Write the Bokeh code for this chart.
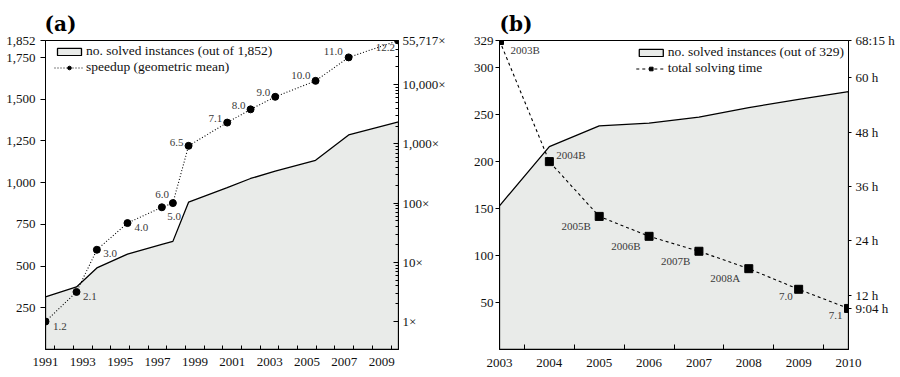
from bokeh.plotting import figure
from bokeh.layouts import row
from bokeh.models import (Range1d, LogAxis, LinearAxis, LogScale, FixedTicker,
                          NumeralTickFormatter, Legend, LegendItem, Title, ColumnDataSource)
from bokeh.embed import file_html
from bokeh.resources import INLINE
from bokeh.core.properties import value

FONT = "Liberation Serif"
FILL = "#e9ebe9"

# ---------------- data: panel (a) ----------------
a_versions = ["1.2", "2.1", "3.0", "4.0", "5.0", "6.0", "6.5", "7.1", "8.0", "9.0", "10.0", "11.0", "12.2"]
a_years = [1991.0, 1992.66, 1993.75, 1995.39, 1997.23, 1997.82, 1998.66, 2000.73, 2001.98, 2003.30, 2005.46, 2007.23, 2009.9]
a_solved = [315, 375, 489, 572, 630, 648, 883, 970, 1025, 1069, 1134, 1286, 1365]
a_speedup = [1.0, 3.16, 16.3, 46, 85, 100, 927, 2290, 3830, 6240, 11600, 28900, 55717]
a_left_ticks = [250, 500, 750, 1000, 1250, 1500, 1750, 1852]
a_right_ticks = [1, 10, 100, 1000, 10000, 55717]
a_year_ticks = [1991, 1993, 1995, 1997, 1999, 2001, 2003, 2005, 2007, 2009]
a_total = 1852

# ---------------- data: panel (b) ----------------
b_versions = ["2003B", "2004B", "2005B", "2006B", "2007B", "2008A", "7.0", "7.1"]
b_years = [2003, 2004, 2005, 2006, 2007, 2008, 2009, 2010]
b_solved = [153, 216, 238, 241, 247.5, 257.5, 266.4, 274.5]
b_hours = [68.25, 41.5, 29.4, 25.0, 21.7, 17.85, 13.3, 9.0667]
b_left_ticks = [50, 100, 150, 200, 250, 300, 329]
b_right_ticks = [9.0667, 12, 24, 36, 48, 60, 68.25]
b_right_labels = ["9:04 h", "12 h", "24 h", "36 h", "48 h", "60 h", "68:15 h"]
b_total = 329

# label placement (pixel offsets, alignment) -- styling only
a_lab_dx = [7.5, 6.5, 6.5, 7, 5.5, -4, -5, -5, -5, -5, -5, -6, -3.5]
a_lab_dy = [5, 4.5, 4, 4, 9, -8.5, -3, -4, -4, -4, -5, -5.5, 6.5]
a_lab_al = ["left"] * 5 + ["right"] * 8
b_lab_dx = [11, 7, -8.5, -8.5, -8.5, -8.5, -6, -6]
b_lab_dy = [9, -7, 9.5, 9.5, 9.5, 9.5, 7, 7]
b_lab_al = ["left", "left"] + ["right"] * 6


def style_axis(ax, size="13px"):
    ax.axis_line_color = "black"
    ax.axis_line_width = 1
    ax.major_tick_line_color = "black"
    ax.minor_tick_line_color = "black"
    ax.major_label_text_font = FONT
    ax.major_label_text_font_size = size
    ax.major_label_text_color = "#111111"


def add_labels(p, xs, ys, texts, dxs, dys, aligns, **kw):
    for al in ("left", "right"):
        idx = [i for i, a in enumerate(aligns) if a == al]
        src = ColumnDataSource(dict(x=[xs[i] for i in idx], y=[ys[i] for i in idx],
                                    t=[texts[i] for i in idx], dx=[dxs[i] for i in idx],
                                    dy=[dys[i] for i in idx]))
        p.text(x="x", y="y", text="t", x_offset="dx", y_offset="dy", source=src,
               text_font=value(FONT), text_font_size="11px", text_color="#3a3a3a",
               text_align=al, text_baseline="middle", **kw)


def make_legend(items, location, margin):
    return Legend(items=items, location=location, margin=margin, padding=0, spacing=0,
                  glyph_width=30, glyph_height=9, label_height=9, label_standoff=2,
                  label_text_font=FONT, label_text_font_size="13.5px",
                  label_text_line_height=1.0, label_text_color="#111111",
                  border_line_alpha=0, background_fill_alpha=0)


# ================= panel (a) =================
pa = figure(width=450, height=377, x_range=Range1d(1991, 2009.9), y_range=Range1d(0, a_total),
            output_backend="svg", toolbar_location=None,
            min_border_left=45, min_border_right=52, min_border_top=40, min_border_bottom=24)
pa.add_layout(Title(text="(a)", align="left", text_font="DejaVu Serif", text_font_size="20px",
                    text_font_style="bold", text_color="black", standoff=10, offset=-1), "above")
pa.grid.visible = False
pa.outline_line_color = "black"
pa.outline_line_alpha = 1
pa.background_fill_color = "white"
pa.extra_y_ranges = {"speed": Range1d(0.337, 55717)}
pa.extra_y_scales = {"speed": LogScale()}

xa = pa.xaxis[0]
style_axis(xa)
xa.ticker = FixedTicker(ticks=a_year_ticks, minor_ticks=[y + 0.5 for y in range(1991, 2010)])
xa.major_tick_in = 0
xa.major_tick_out = 0
xa.minor_tick_in = 4
xa.minor_tick_out = 0
xa.major_label_text_line_height = 1.0
xa.major_label_standoff = 8

ya = pa.yaxis[0]
style_axis(ya)
ya.ticker = FixedTicker(ticks=a_left_ticks, minor_ticks=[])
ya.formatter = NumeralTickFormatter(format="0,0")
ya.major_tick_in = 0
ya.major_tick_out = 5
ya.major_label_standoff = 5

minor_log = [m * 10 ** k for k in range(0, 5) for m in range(2, 10) if m * 10 ** k < 55717]
ra = LogAxis(y_range_name="speed", ticker=FixedTicker(ticks=a_right_ticks, minor_ticks=minor_log),
             major_label_overrides={t: f"{t:,}\u00d7" for t in a_right_ticks})
style_axis(ra)
ra.major_tick_in = 5
ra.major_tick_out = 0
ra.minor_tick_in = 3
ra.minor_tick_out = 0
ra.major_label_standoff = 4
pa.add_layout(ra, "right")

a_px = a_years + [a_years[-1], a_years[0]]
a_py = a_solved + [0, 0]
area_a = pa.patch(a_px, a_py, fill_color=FILL, line_color="black", line_width=1.3)
line_a = pa.line(a_years, a_speedup, y_range_name="speed", line_color="black",
                 line_width=1.1, line_dash="1 2")
pts_a = pa.scatter(a_years, a_speedup, y_range_name="speed", marker="circle", size=7,
                   fill_color="black", line_color="black")
add_labels(pa, a_years, a_speedup, a_versions, a_lab_dx, a_lab_dy, a_lab_al, y_range_name="speed")

leg_a = make_legend([LegendItem(label="no. solved instances (out of 1,852)", renderers=[area_a]),
                     LegendItem(label="speedup (geometric mean)", renderers=[line_a, pts_a])],
                    (9, 274), 0)
pa.add_layout(leg_a)

# ================= panel (b) =================
pb = figure(width=450, height=377, x_range=Range1d(2003, 2010), y_range=Range1d(0, b_total),
            output_backend="svg", toolbar_location=None,
            min_border_left=49, min_border_right=52, min_border_top=39, min_border_bottom=28)
pb.add_layout(Title(text="(b)", align="left", text_font="DejaVu Serif", text_font_size="20px",
                    text_font_style="bold", text_color="black", standoff=10, offset=0), "above")
pb.grid.visible = False
pb.outline_line_color = "black"
pb.outline_line_alpha = 1
pb.extra_y_ranges = {"time": Range1d(0, 68.25)}

xb = pb.xaxis[0]
style_axis(xb)
xb.ticker = FixedTicker(ticks=b_years, minor_ticks=[y + 0.5 for y in range(2003, 2010)])
xb.major_tick_in = 0
xb.major_tick_out = 0
xb.minor_tick_in = 5
xb.minor_tick_out = 0
xb.major_label_text_line_height = 1.0
xb.major_label_standoff = 9

yb = pb.yaxis[0]
style_axis(yb)
yb.ticker = FixedTicker(ticks=b_left_ticks, minor_ticks=[])
yb.major_tick_in = 0
yb.major_tick_out = 4
yb.major_label_standoff = 2

rb = LinearAxis(y_range_name="time", ticker=FixedTicker(ticks=b_right_ticks, minor_ticks=[]),
                major_label_overrides=dict(zip(b_right_ticks, b_right_labels)))
style_axis(rb)
rb.major_tick_in = 0
rb.major_tick_out = 3
rb.major_label_standoff = 4
pb.add_layout(rb, "right")

b_px = b_years + [b_years[-1], b_years[0]]
b_py = b_solved + [0, 0]
area_b = pb.patch(b_px, b_py, fill_color=FILL, line_color="black", line_width=1.3)
line_b = pb.line(b_years, b_hours, y_range_name="time", line_color="black",
                 line_width=1.1, line_dash="3 3")
pts_b = pb.scatter(b_years, b_hours, y_range_name="time", marker="square", size=8,
                   fill_color="black", line_color="black")
add_labels(pb, b_years, b_hours, b_versions, b_lab_dx, b_lab_dy, b_lab_al, y_range_name="time")

leg_b = make_legend([LegendItem(label="no. solved instances (out of 329)", renderers=[area_b]),
                     LegendItem(label="total solving time", renderers=[line_b, pts_b])],
                    "top_right", 4)
pb.add_layout(leg_b)

layout = row(pa, pb)
open("out.html", "w").write(file_html(layout, INLINE))
